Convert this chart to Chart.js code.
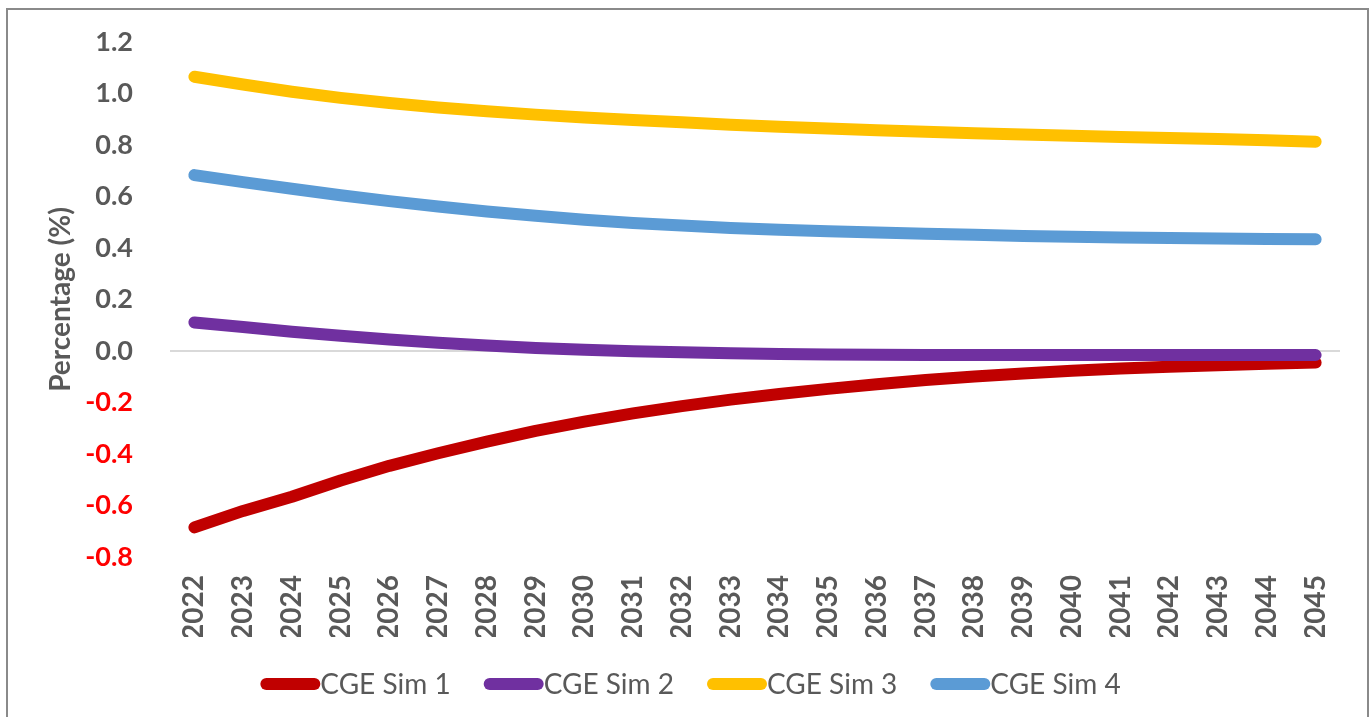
<!DOCTYPE html>
<html>
<head>
<meta charset="utf-8">
<title>CGE simulations</title>
<script src="https://cdn.jsdelivr.net/npm/chart.js@4.4.1/dist/chart.umd.min.js"></script>
<style>
  html, body { margin: 0; padding: 0; background: #fff; overflow: hidden; }
  #wrap { position: relative; width: 1371px; height: 717px; }
  #simChart { position: absolute; left: 0; top: 0; }
  #frame { position: absolute; left: 6px; top: 8px; width: 1359px; height: 730px;
           border: 2px solid #8a8a8a; pointer-events: none; }
</style>
</head>
<body>
<div id="wrap">
  <canvas id="simChart" width="1371" height="717"></canvas>
  <div id="frame"></div>
</div>
<script>
// Years on the x axis
const years = ['2022', '2023', '2024', '2025', '2026', '2027', '2028', '2029', '2030', '2031', '2032', '2033',
               '2034', '2035', '2036', '2037', '2038', '2039', '2040', '2041', '2042', '2043', '2044', '2045'];

// Percentage change per simulation
const sim1 = [-0.685, -0.621, -0.566, -0.503, -0.446, -0.397, -0.352, -0.310, -0.274, -0.242, -0.214, -0.189,
              -0.167, -0.147, -0.129, -0.113, -0.099, -0.087, -0.077, -0.068, -0.061, -0.055, -0.050, -0.045];
const sim2 = [0.111, 0.093, 0.075, 0.059, 0.045, 0.032, 0.021, 0.012, 0.005, -0.001, -0.005, -0.009,
              -0.012, -0.014, -0.015, -0.016, -0.016, -0.016, -0.016, -0.016, -0.016, -0.016, -0.016, -0.016];
const sim3 = [1.065, 1.035, 1.007, 0.983, 0.963, 0.946, 0.931, 0.918, 0.907, 0.897, 0.888, 0.879,
              0.871, 0.864, 0.857, 0.851, 0.846, 0.841, 0.836, 0.831, 0.827, 0.823, 0.818, 0.813];
const sim4 = [0.683, 0.656, 0.630, 0.605, 0.582, 0.561, 0.542, 0.525, 0.510, 0.497, 0.487, 0.478,
              0.471, 0.465, 0.460, 0.455, 0.451, 0.447, 0.444, 0.441, 0.439, 0.437, 0.435, 0.434];

const seriesNames = ['CGE Sim 1', 'CGE Sim 2', 'CGE Sim 3', 'CGE Sim 4'];
const seriesColors = ['#c00000', '#7030a0', '#ffc000', '#5b9bd5'];

const textGrey = '#595959';
const fontFamily = 'Lato, "Open Sans", sans-serif';

function makeDataset(i, values) {
    return {
        label: seriesNames[i],
        data: values,
        borderColor: seriesColors[i],
        backgroundColor: seriesColors[i],
        borderWidth: 12,
        borderCapStyle: 'round',
        borderJoinStyle: 'round',
        pointRadius: 0,
        tension: 0,
        // later series sit on top of earlier ones
        order: 4 - i
    };
}

// Legend under the axis: thick line sample followed by the series name
const lineLegend = {
    id: 'lineLegend',
    afterDraw(chart) {
        const ctx = chart.ctx;
        const sets = chart.data.datasets;
        const markW = 60, gap = 33, y = 684;
        ctx.save();
        ctx.font = '28px ' + fontFamily;
        const widths = sets.map(ds => ctx.measureText(ds.label).width);
        let total = gap * (sets.length - 1);
        widths.forEach(w => total += markW + w);
        let x = (chart.width - total) / 2 + 5;
        sets.forEach((ds, i) => {
            ctx.strokeStyle = ds.borderColor;
            ctx.lineWidth = 12;
            ctx.lineCap = 'round';
            ctx.beginPath();
            ctx.moveTo(x + 6, y);
            ctx.lineTo(x + markW - 6, y);
            ctx.stroke();
            ctx.fillStyle = textGrey;
            ctx.textBaseline = 'middle';
            ctx.textAlign = 'left';
            ctx.fillText(ds.label, x + markW, y + 1);
            x += markW + widths[i] + gap;
        });
        ctx.restore();
    }
};

const ctx = document.getElementById('simChart').getContext('2d');
const simChart = new Chart(ctx, {
    type: 'line',
    data: {
        labels: years,
        datasets: [makeDataset(0, sim1), makeDataset(1, sim2), makeDataset(2, sim3), makeDataset(3, sim4)]
    },
    options: {
        responsive: false,
        animation: false,
        layout: { padding: { top: 42, right: 31, bottom: 80, left: 0 } },
        plugins: {
            legend: { display: false },
            tooltip: { enabled: false }
        },
        scales: {
            x: {
                offset: true,
                grid: { display: false, drawTicks: false },
                border: { display: false },
                ticks: {
                    autoSkip: false,
                    minRotation: 90,
                    maxRotation: 90,
                    padding: 18,
                    color: textGrey,
                    font: { family: fontFamily, size: 28, weight: 'bold' }
                },
                afterFit(scale) { scale.height = 80; }
            },
            y: {
                min: -0.8,
                max: 1.2,
                ticks: {
                    stepSize: 0.2,
                    padding: 37,
                    color: c => (c.tick.value < -1e-9 ? '#ff0000' : textGrey),
                    font: { family: fontFamily, size: 27, weight: 'bold' },
                    callback: v => Number(v).toFixed(1)
                },
                grid: {
                    drawTicks: false,
                    lineWidth: 2,
                    color: c => (Math.abs(c.tick.value) < 1e-9 ? '#d9d9d9' : 'rgba(0,0,0,0)')
                },
                border: { display: false },
                title: {
                    display: true,
                    text: 'Percentage (%)',
                    color: textGrey,
                    padding: { top: 44, bottom: 0 },
                    font: { family: fontFamily, size: 28, weight: 'bold' }
                },
                afterFit(scale) {
                    scale.width = 170;
                    // the layout padding already leaves room for the end labels
                    scale.paddingTop = 0;
                    scale.paddingBottom = 0;
                }
            }
        }
    },
    plugins: [lineLegend]
});
</script>
</body>
</html>
